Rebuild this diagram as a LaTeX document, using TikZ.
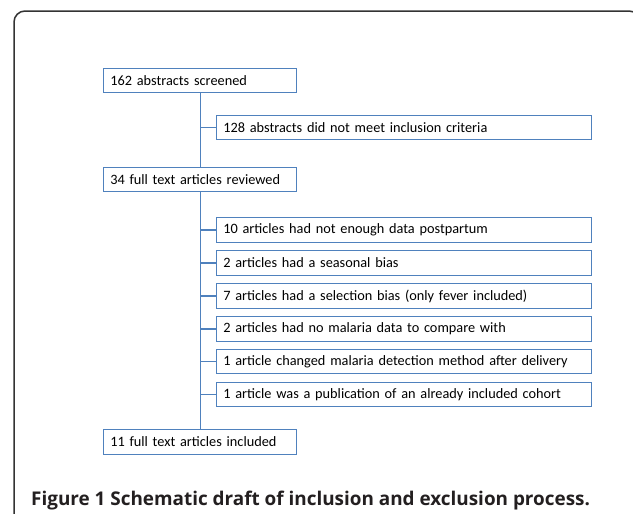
\documentclass[tikz,border=0pt]{standalone}
\usepackage{fontspec}
\setmainfont{Carlito}
\newfontfamily\capfont{Open Sans}
\definecolor{boxblue}{HTML}{4F81BD}
\definecolor{framegray}{HTML}{333333}
\definecolor{captext}{HTML}{231F20}
\begin{document}
\begin{tikzpicture}[x=1pt,y=-1pt,
  boxbase/.style={draw=boxblue, line width=1.4pt, fill=white, rectangle, inner xsep=6.6pt, inner ysep=0pt,
    minimum height=24.5pt, anchor=north west, align=left, font=\fontsize{14.3}{16}\selectfont, text=black},
  leftbox/.style={boxbase, text width=179.8pt},
  rightbox/.style={boxbase, text width=361.8pt},
  conn/.style={draw=boxblue, line width=1.2pt}]
\useasboundingbox (0,0) rectangle (633,514);
\fill[white] (0,0) rectangle (633,514);
\begin{scope}
\clip (0,0) rectangle (633,514);
\draw[framegray, line width=1.5pt, rounded corners=11pt] (14,11) rectangle (640,540);
\end{scope}
\node[leftbox] (b1) at (103,67.5) {162 abstracts screened};
\node[rightbox] (b2) at (216,114.5) {128 abstracts did not meet inclusion criteria};
\node[leftbox] (b3) at (103,166.5) {34 full text articles reviewed};
\node[rightbox] (e1) at (216,217) {10 articles had not enough data postpartum};
\node[rightbox] (e2) at (216,250) {2 articles had a seasonal bias};
\node[rightbox] (e3) at (216,283) {7 articles had a selection bias (only fever included)};
\node[rightbox] (e4) at (216,316) {2 articles had no malaria data to compare with};
\node[rightbox] (e5) at (216,348.5) {1 article changed malaria detection method after delivery};
\node[rightbox] (e6) at (216,381.5) {1 article was a publication of an already included cohort};
\node[leftbox] (b4) at (103,429) {11 full text articles included};
\draw[conn] (b1.south) -- (b3.north);
\draw[conn] (b3.south) -- (b4.north);
\foreach \n/\m in {b2/b1,e1/b3,e2/b3,e3/b3,e4/b3,e5/b3,e6/b3}
  \draw[conn] (\n.west) -- (\n.west -| \m.south);
\node[anchor=base west, inner sep=0pt, text=captext, font=\capfont\bfseries\fontsize{18.9}{21}\selectfont] (cap) at (31,505)
  {Figure 1 Schematic draft of inclusion and exclusion process.};
\end{tikzpicture}
\end{document}
